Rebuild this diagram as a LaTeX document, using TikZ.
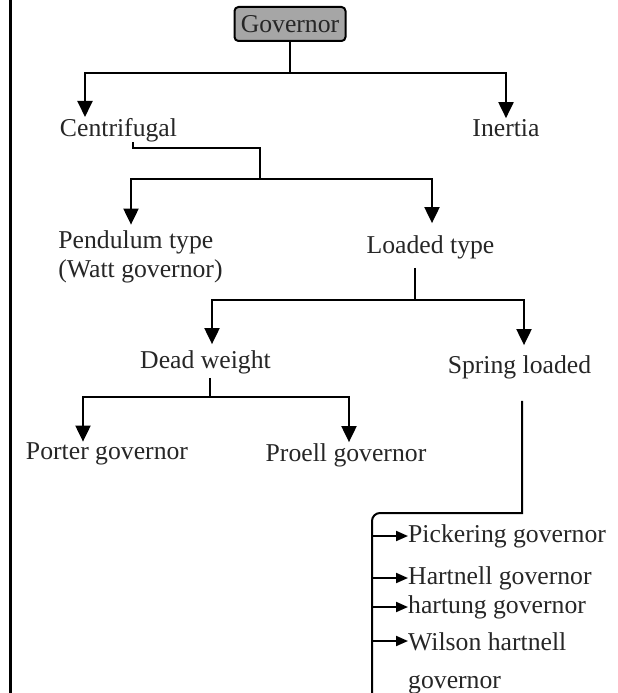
\documentclass[tikz,border=0pt]{standalone}
\usepackage{fontspec}
\setmainfont{Liberation Serif}
\usetikzlibrary{arrows.meta}

\tikzset{
  txt/.style={inner sep=0pt, text=black!85, font=\fontsize{25.7}{29}\selectfont},
  plain/.style={line width=2pt},
  link/.style={line width=2pt, -{Triangle[width=15pt,length=16pt]}},
  tick/.style={line width=2pt, -{Triangle[width=10pt,length=12pt]}}
}

\begin{document}
\begin{tikzpicture}[x=1pt,y=-1pt]
\useasboundingbox (0,0) rectangle (618,693);
\draw[line width=3pt] (10,0) -- (10,693);

\node[draw, line width=2pt, fill=black!35, rounded corners=4pt, minimum width=111pt,
      minimum height=34pt, txt] (gov) at (290,24) {Governor};

% first level
\node[txt] (cen) at (118.5,130) {Centrifugal};
\node[txt] (ine) at (506,128) {Inertia};

% second level
\node[txt, align=left] (pen) at (140.5,257) {Pendulum type\\(Watt governor)};
\node[txt] (loa) at (430.5,247) {Loaded type};

% third level
\node[txt] (dea) at (205.5,362) {Dead weight};
\node[txt] (spr) at (519.5,367) {Spring loaded};

% fourth level
\node[txt] (por) at (107,454) {Porter governor};
\node[txt] (pro) at (346,455) {Proell governor};

\node[txt, anchor=west] (pic) at (408,536) {Pickering governor};
\node[txt, anchor=west] (har) at (408,578) {Hartnell governor};
\node[txt, anchor=west] (hag) at (408,607) {hartung governor};
\node[txt, anchor=north west, align=left, font=\fontsize{25.7}{38}\selectfont] (wil) at (408,632) {Wilson hartnell\\governor};

% junctions
\coordinate (govj) at (290,73);
\coordinate (cenj) at (260,179);
\coordinate (loaj) at (415,300);
\coordinate (deaj) at (210,397);
\coordinate (spine) at (372,513);
\coordinate (spineend) at (372,693);
\coordinate (wilin) at ([yshift=-9pt]wil.north west);

\draw[plain] (gov.south) -- (govj);
\draw[link] (govj) -| ([xshift=-33.5pt,yshift=1pt]cen.north);
\draw[link] (govj) -| ([yshift=1pt]ine.north);

\draw[plain] ([xshift=14.5pt]cen.south) -- ++(0,6) -| (cenj);
\draw[link] (cenj) -| ([xshift=-9.5pt,yshift=6pt]pen.north);
\draw[link] (cenj) -| ([xshift=1.5pt,yshift=12pt]loa.north);

\draw[plain] ([xshift=-15.5pt,yshift=-9pt]loa.south) -- (loaj);
\draw[link] (loaj) -| ([xshift=6.5pt,yshift=6pt]dea.north);
\draw[link] (loaj) -| ([xshift=4.5pt,yshift=10pt]spr.north);

\draw[plain] ([xshift=4.5pt,yshift=-4pt]dea.south) -- (deaj);
\draw[link] (deaj) -| ([xshift=-24pt,yshift=1pt]por.north);
\draw[link] (deaj) -| ([xshift=3pt,yshift=1pt]pro.north);

\draw[plain] ([xshift=2.5pt,yshift=-22pt]spr.south) -- ([xshift=2.5pt]spr.south |- spine)
  [rounded corners=8pt] -- (spine) -- (spineend);
\draw[tick] (spine |- pic.west) -- (pic.west);
\draw[tick] (spine |- har.west) -- (har.west);
\draw[tick] (spine |- hag.west) -- (hag.west);
\draw[tick] (spine |- wilin) -- (wilin);

\end{tikzpicture}
\end{document}
